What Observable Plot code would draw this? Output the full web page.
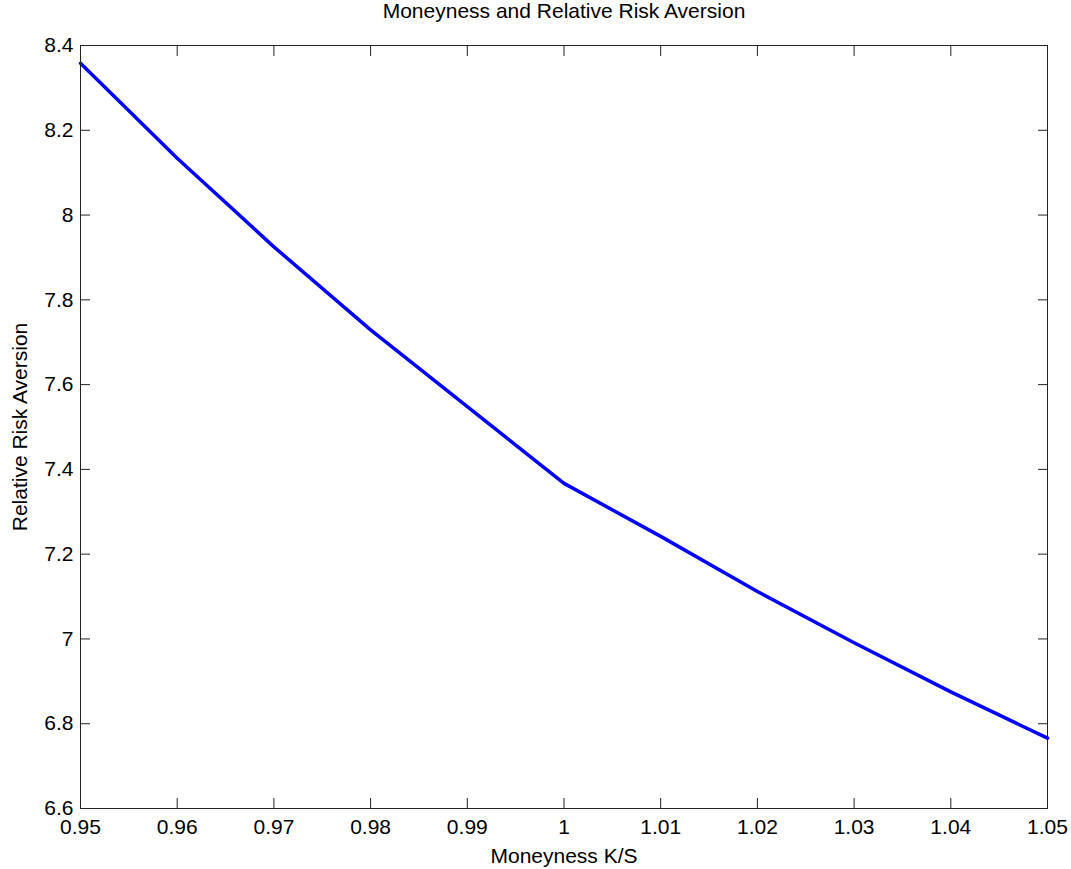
<!DOCTYPE html>
<html>
<head>
<meta charset="utf-8">
<script src="https://cdn.jsdelivr.net/npm/d3@7"></script>
<script src="https://cdn.jsdelivr.net/npm/@observablehq/plot@0.6"></script>
<style>
  html, body { margin: 0; padding: 0; background: #fff; }
  svg { display: block; }
</style>
</head>
<body>
<div id="chart"></div>
<script>
const moneyness = [0.95, 0.96, 0.97, 0.98, 0.99, 1.00, 1.01, 1.02, 1.03, 1.04, 1.05];
const rra = [8.358, 8.134, 7.925, 7.729, 7.548, 7.367, 7.242, 7.112, 6.991, 6.875, 6.766];
const xTicks = [0.95, 0.96, 0.97, 0.98, 0.99, 1.00, 1.01, 1.02, 1.03, 1.04, 1.05];
const yTicks = [6.6, 6.8, 7.0, 7.2, 7.4, 7.6, 7.8, 8.0, 8.2, 8.4];
const xTickLabels = ["0.95", "0.96", "0.97", "0.98", "0.99", "1", "1.01", "1.02", "1.03", "1.04", "1.05"];
const yTickLabels = ["6.6", "6.8", "7", "7.2", "7.4", "7.6", "7.8", "8", "8.2", "8.4"];
const title = "Moneyness and Relative Risk Aversion";
const xLabel = "Moneyness K/S";
const yLabel = "Relative Risk Aversion";

const data = moneyness.map((m, i) => ({m, r: rra[i]}));
const fs = 21;
const axisColor = "#222";
const font = "'Liberation Sans', Arial, Helvetica, sans-serif";

const chart = Plot.plot({
  width: 1071,
  height: 869,
  marginLeft: 80,
  marginRight: 24,
  marginTop: 45,
  marginBottom: 61,
  style: {fontFamily: font, fontSize: fs + "px", color: "#000", background: "#fff"},
  x: {domain: [0.95, 1.05]},
  y: {domain: [6.6, 8.4]},
  marks: [
    Plot.line(data, {x: "m", y: "r", stroke: "#0000ff", strokeWidth: 3.5}),
    Plot.frame({stroke: axisColor, strokeWidth: 1}),
    // inward ticks on all four sides
    Plot.axisX(xTicks, {anchor: "bottom", tickSize: -10, tickFormat: () => "", label: null, stroke: axisColor}),
    Plot.axisX(xTicks, {anchor: "top", tickSize: -10, tickFormat: () => "", label: null, stroke: axisColor}),
    Plot.axisY(yTicks, {anchor: "left", tickSize: -10, tickFormat: () => "", label: null, stroke: axisColor}),
    Plot.axisY(yTicks, {anchor: "right", tickSize: -10, tickFormat: () => "", label: null, stroke: axisColor}),
    // tick labels
    Plot.axisX(xTicks, {anchor: "bottom", tickSize: 0, tickPadding: 11, fontSize: fs, fill: "#000",
      tickFormat: (d) => xTickLabels[xTicks.indexOf(d)], label: null}),
    Plot.axisY(yTicks, {anchor: "left", tickSize: 0, tickPadding: 7, fontSize: fs, fill: "#000",
      tickFormat: (d) => yTickLabels[yTicks.indexOf(d)], label: null}),
    // title and axis labels
    Plot.text([title], {frameAnchor: "top", dy: -34, fontSize: fs, fill: "#000", lineAnchor: "middle", textAnchor: "middle"}),
    Plot.text([xLabel], {frameAnchor: "bottom", dy: 48, fontSize: fs, fill: "#000", lineAnchor: "middle", textAnchor: "middle"}),
    Plot.text([yLabel], {frameAnchor: "left", dx: -60, rotate: -90, fontSize: fs, fill: "#000", lineAnchor: "middle", textAnchor: "middle"})
  ]
});
document.getElementById("chart").appendChild(chart);
</script>
</body>
</html>
